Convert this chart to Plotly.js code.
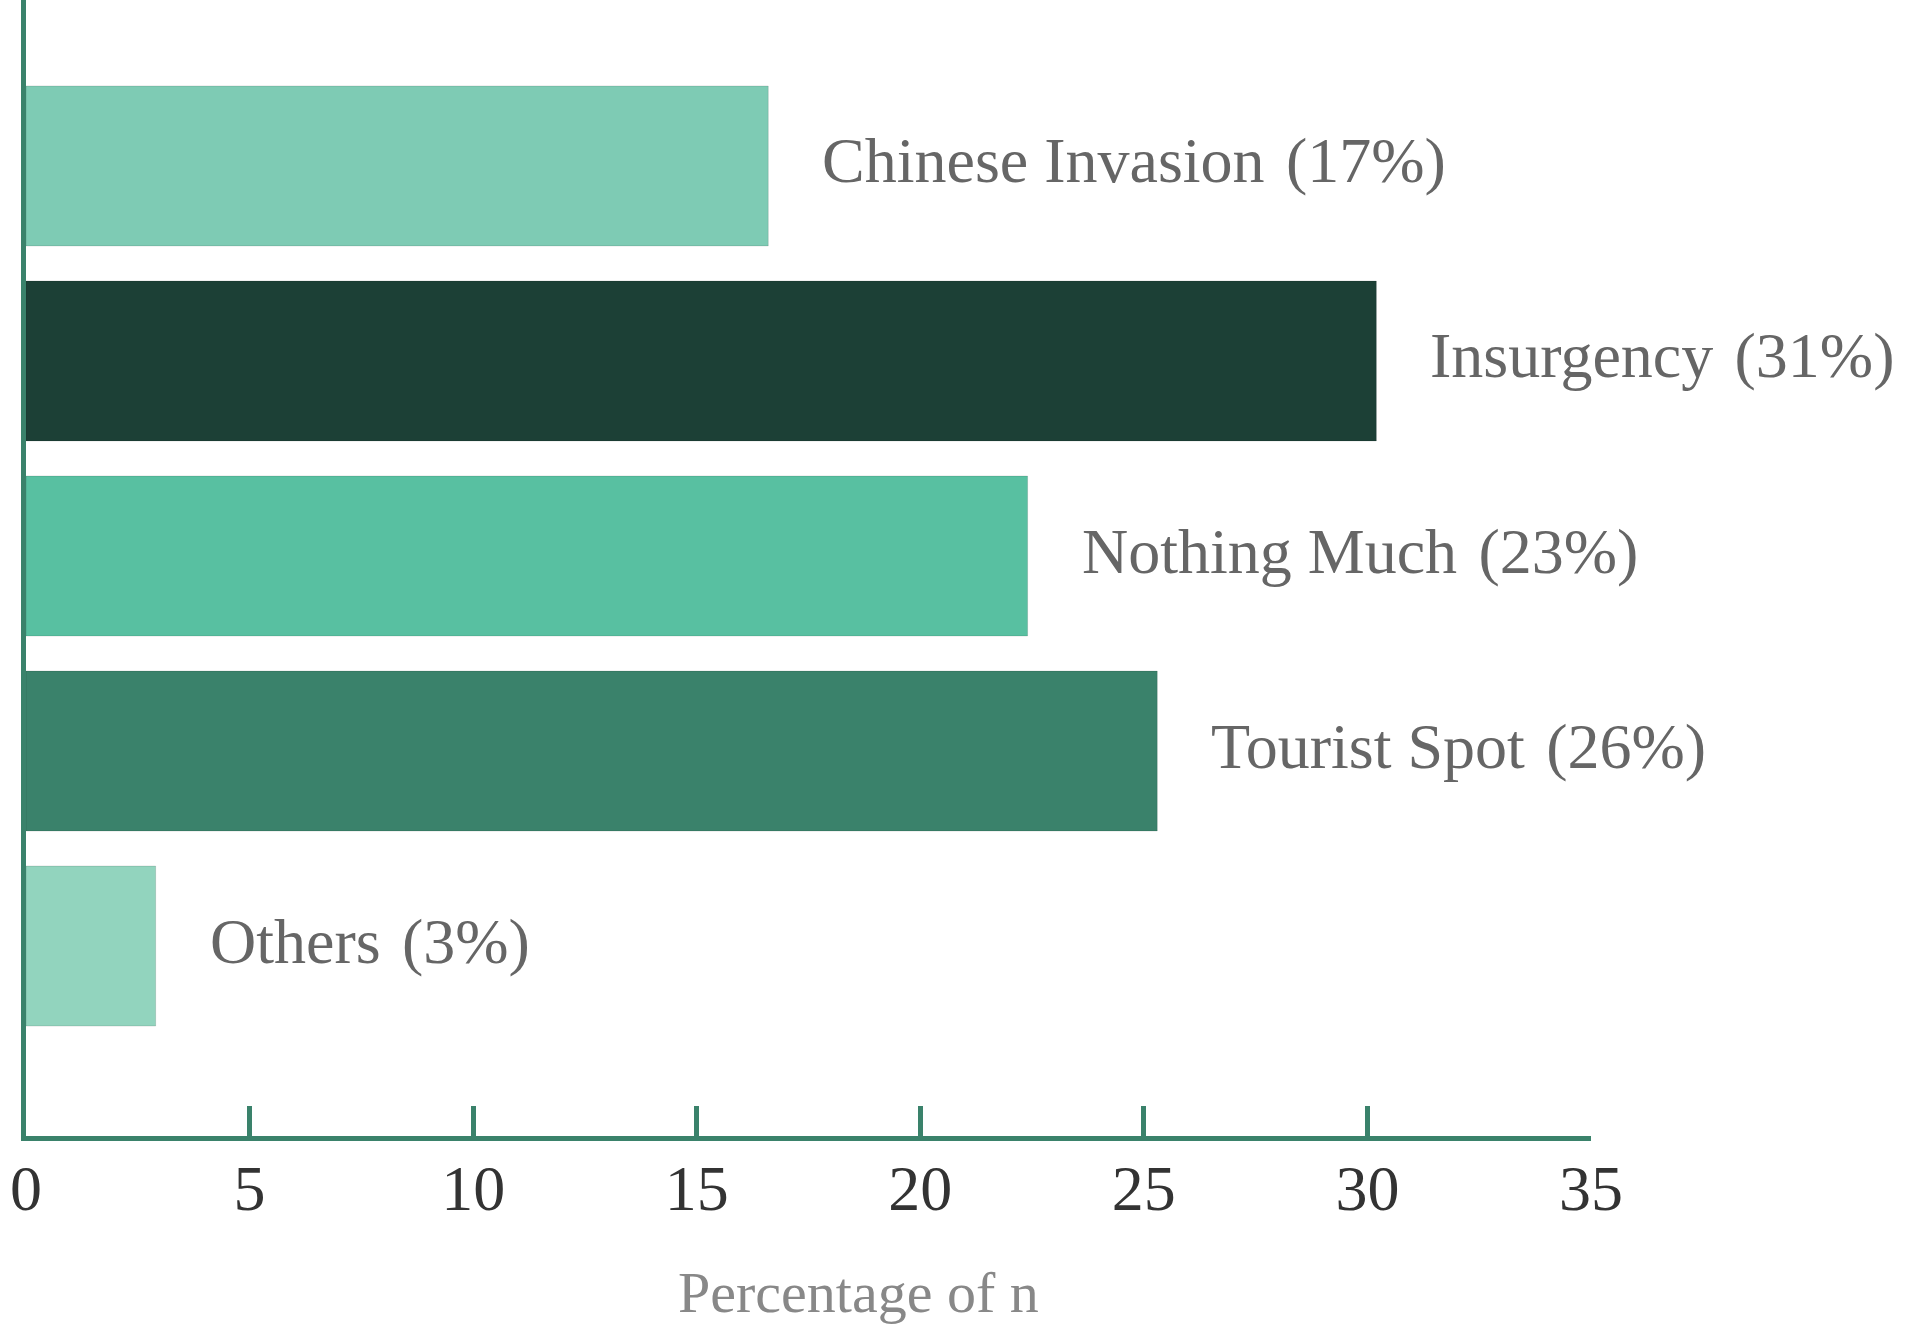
<!DOCTYPE html>
<html>
<head>
<meta charset="utf-8">
<script src="https://cdn.plot.ly/plotly-3.0.1.min.js"></script>
<style>
html,body{margin:0;padding:0;background:#fff;}
#chart{width:1921px;height:1326px;}
</style>
</head>
<body>
<div id="chart"></div>
<script>
const categories = ["Chinese Invasion", "Insurgency", "Nothing Much", "Tourist Spot", "Others"];
const values = [16.6, 30.2, 22.4, 25.3, 2.9];
const percentLabels = ["17%", "31%", "23%", "26%", "3%"];
const barColors = ["#7ecbb4", "#1c4036", "#58c0a1", "#3a826b", "#92d4be"];
const xTicks = [0, 5, 10, 15, 20, 25, 30, 35];
const axisTitle = "Percentage of n";

const axisColor = "#3a826b";
const fontFamily = "'Liberation Serif', 'DejaVu Serif', serif";

const W = 1921, H = 1326;
const L = 26, R = 1921 - 1591, T = 0, B = 1326 - 1136;
const plotW = W - L - R, plotH = H - T - B;

const trace = {
  type: "bar",
  orientation: "h",
  x: values,
  y: categories,
  width: 0.82,
  marker: {color: barColors, line: {width: 1, color: "rgba(0,0,0,0.12)"}},
  hoverinfo: "none",
  showlegend: false
};

const annotations = categories.map((c, i) => ({
  x: values[i],
  y: c,
  xref: "x",
  yref: "y",
  text: c + " \u200A(" + percentLabels[i] + ")",
  showarrow: false,
  xanchor: "left",
  yanchor: "middle",
  xshift: 52,
  yshift: 5,
  font: {family: fontFamily, size: 64, color: "#666666"}
}));

annotations.push({
  x: (858 - L) / plotW,
  y: (H - B - 1292) / plotH,
  xref: "paper",
  yref: "paper",
  text: axisTitle,
  showarrow: false,
  xanchor: "center",
  yanchor: "middle",
  font: {family: fontFamily, size: 58, color: "#888888"}
});

const layout = {
  width: W,
  height: H,
  margin: {l: L, r: R, t: T, b: B, pad: 0},
  paper_bgcolor: "#ffffff",
  plot_bgcolor: "#ffffff",
  xaxis: {
    range: [0, 35],
    tickvals: xTicks,
    ticktext: xTicks.map(String),
    showgrid: false,
    zeroline: false,
    showline: true,
    linecolor: axisColor,
    linewidth: 5,
    ticks: "inside",
    ticklen: 30,
    tickwidth: 5,
    tickcolor: axisColor,
    tickfont: {family: fontFamily, size: 64, color: "#333333"},
    ticklabelstandoff: -8,
    fixedrange: true
  },
  yaxis: {
    type: "category",
    categoryorder: "array",
    categoryarray: categories,
    range: [4.974, -0.851],
    showticklabels: false,
    ticks: "",
    showgrid: false,
    zeroline: false,
    showline: true,
    linecolor: axisColor,
    linewidth: 5,
    fixedrange: true
  },
  annotations: annotations
};

Plotly.newPlot("chart", [trace], layout, {displayModeBar: false, staticPlot: true});
</script>
</body>
</html>
